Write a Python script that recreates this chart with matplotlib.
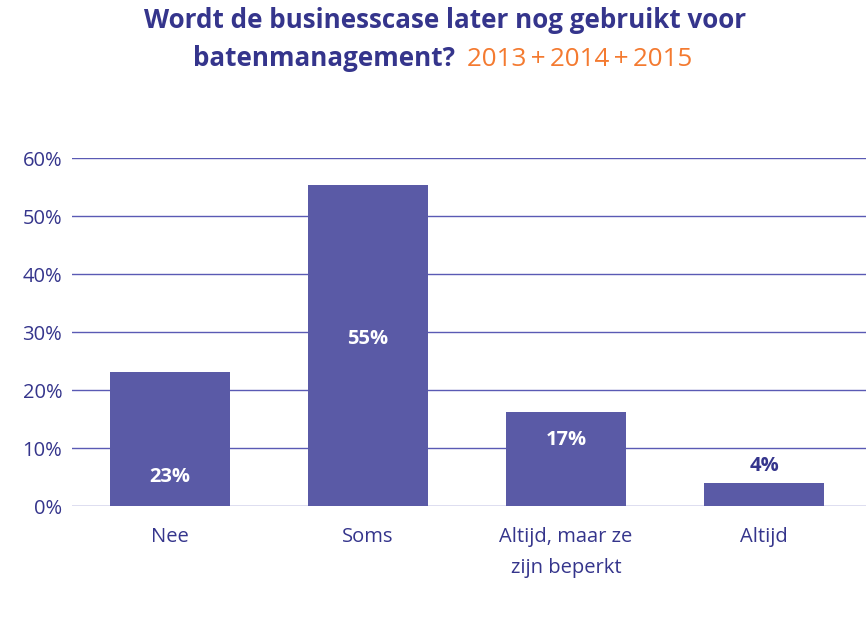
import matplotlib
matplotlib.use('Agg')
import matplotlib.pyplot as plt
import numpy as np

categories = ['Nee', 'Soms', 'Altijd, maar ze\nzijn beperkt', 'Altijd']
values = [23, 55, 17, 4]
# shown percentages (bar heights are the exact shares)
heights = [23.1, 55.3, 16.2, 4.0]
labels = ['23%', '55%', '17%', '4%']
yticks = [0, 10, 20, 30, 40, 50, 60]

bar_color = '#5a5aa6'
text_color = '#35358c'
grid_color = '#5a5ab4'
orange = '#f47a30'

plt.rcParams['font.family'] = ['Open Sans', 'DejaVu Sans']

fig = plt.figure(figsize=(8.66, 6.25), dpi=100)
ax = fig.add_axes([72 / 866, 1 - 506 / 625, 1 - 72 / 866, (506 - 158) / 625])

x = np.arange(len(categories))
ax.bar(x, heights, width=0.606, color=bar_color, zorder=3)

ax.set_xlim(-0.495, 3.515)
ax.set_ylim(0, 60)
ax.set_yticks(yticks)
ax.set_yticklabels([f'{t}%' for t in yticks], fontsize=14.5, color=text_color)
ax.set_xticks(x)
ax.set_xticklabels(categories, fontsize=14.5, color=text_color, linespacing=1.75, va='top')
ax.tick_params(axis='both', length=0)
ax.tick_params(axis='y', pad=7)
ax.tick_params(axis='x', pad=15)
for s in ax.spines.values():
    s.set_visible(False)
ax.yaxis.grid(True, color=grid_color, linewidth=1.0, zorder=0)

# value labels: inside the bars, last one above the bar
label_y = [5.0, 28.8, 11.4, 6.9]
for i, (lab, ly) in enumerate(zip(labels, label_y)):
    c = 'white' if i < 3 else text_color
    ax.text(x[i], ly, lab, ha='center', va='center', fontsize=14.5,
            fontweight='bold', color=c, zorder=4)

# title
fig.text(445 / 866, 1 - 21 / 625, 'Wordt de businesscase later nog gebruikt voor',
         ha='center', va='center', fontsize=18.75, fontweight='bold', color=text_color)
fig.text(455 / 866, 1 - 59 / 625, 'batenmanagement?',
         ha='right', va='center', fontsize=18.75, fontweight='bold', color=text_color)
fig.text(467 / 866, 1 - 59 / 625, '2013\u2009+\u20092014\u2009+\u20092015',
         ha='left', va='center', fontsize=18.75, color=orange)

fig.savefig('out.png', dpi=100)
